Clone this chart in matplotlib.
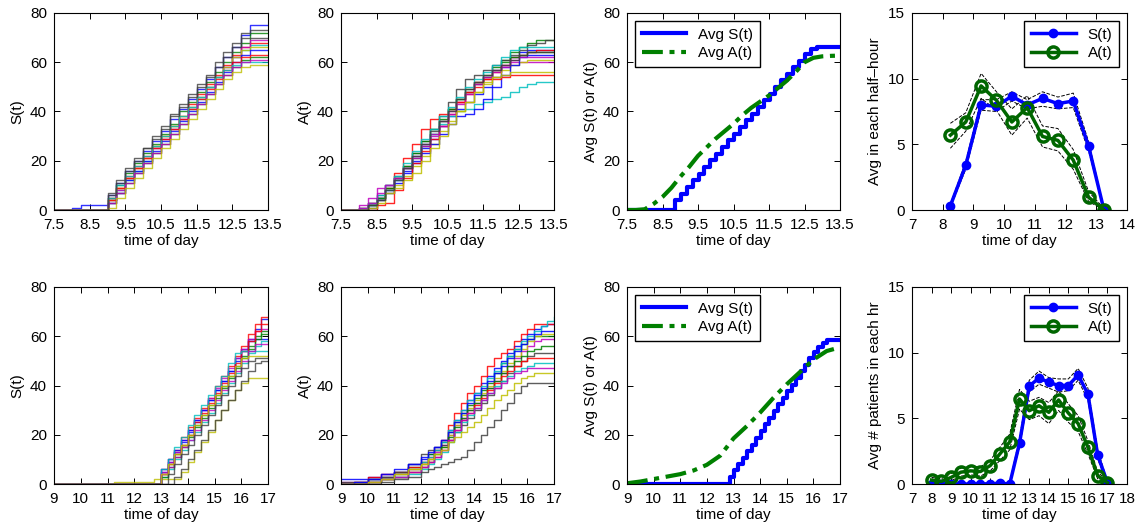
import numpy as np
import matplotlib
matplotlib.use("Agg")
import matplotlib.pyplot as plt

plt.rcParams['font.family'] = ['Liberation Sans', 'DejaVu Sans']
plt.rcParams['font.size'] = 11

# matlab-ish line colour cycle
cols = [(0, 0, 1), (0, 0.5, 0), (1, 0, 0), (0, 0.75, 0.75),
        (0.75, 0, 0.75), (0.75, 0.75, 0), (0.25, 0.25, 0.25)]

# ---------------- morning S(t) sample paths ----------------
t_am = [7.5, 7.75, 8.0, 8.25, 8.5, 8.75, 9.0, 9.25, 9.5, 9.75, 10.0, 10.25, 10.5,
        10.75, 11.0, 11.25, 11.5, 11.75, 12.0, 12.25, 12.5, 12.75, 13.0, 13.25, 13.5]
s_am = [
    [0, 0, 1, 2, 2, 2, 6, 11, 16, 20, 24, 28, 32, 37, 41, 45, 49, 53, 58, 62, 66, 71, 75, 75, 75],
    [0, 0, 0, 0, 0, 0, 5, 10, 15, 19, 23, 27, 31, 35, 40, 44, 48, 52, 56, 60, 64, 68, 72, 72, 72],
    [0, 0, 0, 0, 0, 0, 5, 9, 14, 18, 22, 26, 30, 34, 38, 43, 47, 51, 55, 59, 63, 66, 68, 68, 68],
    [0, 0, 0, 0, 0, 0, 4, 8, 12, 16, 20, 25, 29, 33, 37, 41, 45, 50, 54, 58, 62, 65, 67, 67, 67],
    [0, 0, 0, 0, 0, 0, 4, 8, 13, 17, 21, 25, 29, 33, 37, 42, 46, 50, 54, 58, 62, 66, 69, 69, 69],
    [0, 0, 0, 0, 0, 0, 4, 9, 13, 17, 21, 26, 30, 34, 38, 42, 46, 50, 54, 58, 62, 65, 66, 66, 66],
    [0, 0, 0, 0, 0, 0, 7, 12, 17, 21, 25, 30, 34, 39, 43, 47, 51, 55, 60, 64, 68, 72, 73, 73, 73],
    [0, 0, 0, 0, 0, 0, 3, 7, 12, 16, 20, 24, 28, 32, 36, 40, 44, 48, 52, 56, 60, 63, 65, 65, 65],
    [0, 0, 0, 0, 0, 0, 3, 7, 11, 15, 19, 23, 27, 31, 35, 39, 43, 47, 51, 55, 58, 61, 62, 62, 62],
    [0, 0, 0, 0, 0, 0, 4, 9, 13, 17, 21, 25, 29, 33, 37, 41, 45, 49, 53, 57, 60, 62, 63, 63, 63],
    [0, 0, 0, 0, 0, 0, 5, 10, 14, 18, 22, 26, 30, 34, 38, 42, 46, 50, 54, 57, 59, 60, 60, 60, 60],
    [0, 0, 0, 0, 0, 0, 3, 7, 11, 15, 19, 23, 27, 31, 35, 39, 43, 47, 51, 55, 58, 60, 61, 61, 61],
    [0, 0, 0, 0, 0, 0, 1, 5, 9, 13, 17, 21, 25, 29, 33, 37, 41, 45, 49, 53, 56, 58, 59, 59, 59],
    [0, 0, 0, 0, 0, 0, 6, 11, 16, 20, 25, 29, 33, 38, 42, 46, 50, 54, 58, 62, 66, 70, 70, 70, 70],
]

# ---------------- morning A(t) sample paths ----------------
a_am = [
    [0, 0, 0, 2, 5, 8, 12, 16, 20, 25, 29, 34, 38, 41, 44, 47, 50, 54, 58, 62, 64, 65, 65, 65, 65],
    [0, 0, 0, 2, 5, 9, 13, 17, 21, 26, 31, 36, 41, 45, 49, 52, 55, 58, 61, 64, 66, 68, 69, 69, 69],
    [0, 0, 1, 3, 5, 9, 15, 21, 27, 33, 37, 39, 41, 44, 47, 50, 53, 56, 59, 62, 63, 64, 65, 65, 65],
    [0, 0, 0, 2, 5, 8, 12, 17, 22, 27, 31, 35, 38, 40, 41, 43, 44, 45, 46, 48, 50, 51, 52, 52, 52],
    [0, 0, 2, 5, 9, 10, 13, 17, 22, 27, 31, 36, 40, 44, 48, 51, 54, 56, 58, 60, 60, 60, 60, 60, 60],
    [0, 0, 0, 1, 4, 7, 10, 14, 18, 22, 27, 32, 36, 40, 44, 48, 51, 54, 57, 59, 60, 61, 61, 61, 61],
    [0, 0, 1, 3, 6, 10, 14, 18, 23, 28, 33, 38, 44, 49, 53, 55, 57, 59, 61, 63, 65, 67, 68, 69, 69],
    [0, 0, 0, 1, 4, 7, 11, 15, 19, 23, 27, 31, 35, 38, 39, 41, 45, 50, 55, 59, 62, 63, 63, 63, 63],
    [0, 0, 0, 2, 5, 9, 13, 18, 23, 28, 33, 37, 41, 45, 48, 51, 54, 57, 60, 62, 63, 64, 64, 64, 64],
    [0, 0, 0, 0, 2, 3, 8, 13, 19, 24, 29, 34, 39, 44, 48, 52, 53, 53, 54, 55, 55, 55, 55, 55, 55],
    [0, 0, 1, 3, 6, 10, 14, 19, 24, 29, 33, 38, 42, 46, 50, 53, 56, 59, 62, 65, 66, 66, 66, 66, 66],
    [0, 0, 1, 3, 7, 10, 13, 17, 21, 26, 30, 34, 39, 43, 47, 51, 54, 57, 59, 61, 62, 62, 62, 62, 62],
    [0, 0, 0, 1, 3, 7, 9, 12, 15, 20, 25, 30, 35, 40, 44, 48, 52, 54, 55, 56, 56, 56, 56, 56, 56],
    [0, 0, 0, 2, 4, 8, 12, 17, 22, 27, 32, 36, 40, 45, 49, 52, 55, 57, 59, 61, 63, 64, 64, 64, 64],
]

# ---------------- morning averages ----------------
t_am_slots = [7.5, 8.85, 9.02, 9.18, 9.35, 9.52, 9.68, 9.85, 10.02, 10.18, 10.35, 10.52, 10.68,
              10.85, 11.02, 11.18, 11.35, 11.52, 11.68, 11.85, 12.02, 12.18, 12.35, 12.52,
              12.68, 12.85, 13.5]
avg_s_am = [0, 4, 6.7, 9.4, 12.1, 14.8, 17.5, 20.2, 22.9, 25.6, 28.3, 31.0, 33.7, 36.4,
            39.1, 41.8, 44.5, 47.2, 49.9, 52.6, 55.3, 58.0, 60.7, 63.2, 65.2, 66.0, 66.0]
avg_a_am = [0, 0, 0.3, 2.5, 5.3, 9, 13.5, 17.5, 22, 25.5, 29, 32, 35, 38.5, 41.5, 44,
            46.5, 49.5, 52.5, 56, 60, 61.8, 62.4, 62.6, 62.7]

# ---------------- half-hour counts (morning) ----------------
t_half = [8.25, 8.75, 9.25, 9.75, 10.25, 10.75, 11.25, 11.75, 12.25, 12.75, 13.25]
s_half = [0.33, 3.4, 8.0, 7.9, 8.67, 8.0, 8.5, 8.1, 8.3, 4.85, 0.0]
s_half_lo = [0.2, 3.1, 7.6, 7.5, 8.3, 7.7, 7.9, 7.7, 7.8, 4.5, 0.0]
s_half_hi = [0.45, 3.7, 8.4, 8.4, 9.0, 8.4, 9.0, 8.6, 8.9, 5.2, 0.1]
a_half = [5.7, 6.7, 9.45, 8.35, 6.7, 7.8, 5.6, 5.3, 3.8, 0.97, 0.0]
a_half_lo = [4.7, 6.0, 8.5, 7.6, 5.7, 7.0, 4.8, 4.5, 3.1, 0.65, 0.0]
a_half_hi = [6.6, 7.4, 10.4, 9.0, 7.7, 8.7, 6.4, 6.2, 4.6, 1.4, 0.1]

# ---------------- afternoon S(t) sample paths ----------------
t_pm = [9.0, 11.0, 11.25, 12.75, 13.0, 13.25, 13.5, 13.75, 14.0, 14.25, 14.5, 14.75,
        15.0, 15.25, 15.5, 15.75, 16.0, 16.25, 16.5, 16.75, 17.0]
s_pm = [
    [0, 0, 0, 0, 5, 9, 13, 17, 21, 25, 30, 34, 38, 42, 46, 51, 55, 59, 63, 67, 67],
    [0, 0, 0, 0, 4, 8, 12, 16, 20, 24, 28, 32, 36, 40, 44, 48, 52, 56, 60, 62, 62],
    [0, 0, 0, 0, 6, 10, 14, 19, 23, 27, 31, 35, 40, 44, 48, 52, 56, 61, 65, 68, 68],
    [0, 0, 0, 0, 3, 6, 10, 14, 18, 21, 25, 29, 33, 37, 41, 45, 49, 53, 56, 58, 58],
    [0, 0, 0, 0, 5, 9, 13, 18, 22, 26, 30, 35, 39, 43, 47, 51, 55, 59, 62, 63, 63],
    [0, 0, 1, 2, 2, 2, 2, 5, 9, 13, 17, 21, 26, 30, 34, 38, 41, 43, 43, 43, 43],
    [0, 0, 0, 0, 0, 0, 3, 6, 10, 14, 18, 22, 26, 30, 34, 38, 42, 46, 49, 50, 50],
    [0, 0, 0, 0, 6, 10, 14, 18, 22, 26, 30, 34, 38, 42, 46, 50, 54, 58, 59, 59, 59],
    [0, 0, 0, 0, 3, 7, 11, 15, 19, 23, 27, 31, 35, 39, 43, 47, 51, 55, 59, 61, 61],
    [0, 0, 0, 0, 4, 8, 12, 16, 20, 25, 29, 33, 37, 41, 45, 49, 54, 58, 62, 65, 65],
    [0, 0, 0, 0, 6, 10, 15, 19, 24, 28, 32, 36, 40, 44, 49, 53, 54, 54, 54, 54, 54],
    [0, 0, 0, 0, 4, 7, 11, 15, 18, 22, 26, 30, 34, 38, 42, 46, 50, 54, 57, 57, 57],
    [0, 0, 0, 0, 4, 8, 12, 16, 20, 24, 28, 32, 36, 40, 44, 48, 51, 52, 52, 52, 52],
    [0, 0, 0, 0, 0, 4, 8, 12, 16, 20, 24, 28, 32, 36, 40, 44, 47, 50, 51, 51, 51],
]

# ---------------- afternoon A(t) sample paths ----------------
t_pm_a = [9.0, 9.5, 10.0, 10.5, 11.0, 11.5, 12.0, 12.25, 12.5, 12.75, 13.0, 13.25, 13.5,
          13.75, 14.0, 14.25, 14.5, 14.75, 15.0, 15.25, 15.5, 15.75, 16.0, 16.25, 16.5,
          16.75, 17.0]
a_pm = [
    [2, 2, 3, 4, 5, 8, 10, 12, 15, 18, 22, 26, 30, 34, 37, 41, 44, 47, 50, 53, 56, 59, 61, 63, 64, 65, 65],
    [0, 1, 2, 3, 5, 7, 9, 12, 14, 17, 21, 25, 29, 32, 35, 38, 41, 45, 49, 52, 55, 57, 59, 60, 60, 60, 60],
    [0, 1, 3, 4, 5, 7, 9, 11, 14, 18, 24, 29, 33, 37, 40, 44, 48, 51, 53, 55, 58, 61, 63, 65, 65, 65, 65],
    [0, 0, 2, 3, 4, 6, 9, 11, 14, 17, 22, 26, 30, 34, 37, 40, 43, 46, 49, 52, 55, 58, 60, 62, 64, 66, 68],
    [1, 1, 2, 3, 4, 6, 8, 10, 13, 16, 20, 24, 27, 30, 33, 36, 39, 42, 45, 48, 51, 54, 56, 58, 59, 59, 59],
    [0, 0, 1, 2, 4, 6, 8, 10, 12, 15, 20, 24, 28, 31, 34, 37, 40, 43, 46, 49, 52, 55, 58, 60, 61, 61, 61],
    [1, 1, 2, 3, 5, 8, 12, 14, 15, 16, 18, 21, 24, 27, 30, 33, 36, 39, 42, 45, 48, 50, 52, 53, 53, 53, 53],
    [0, 1, 2, 4, 6, 8, 11, 13, 15, 18, 21, 25, 29, 33, 36, 39, 42, 45, 48, 51, 54, 57, 59, 61, 62, 62, 62],
    [0, 0, 1, 2, 3, 5, 7, 9, 12, 15, 19, 23, 27, 30, 33, 36, 39, 42, 45, 48, 50, 52, 54, 55, 56, 56, 56],
    [0, 0, 1, 2, 3, 5, 7, 9, 11, 14, 18, 22, 26, 29, 32, 35, 38, 41, 44, 46, 48, 50, 51, 51, 51, 51, 51],
    [0, 0, 1, 2, 3, 4, 6, 8, 10, 13, 17, 21, 25, 28, 31, 34, 37, 40, 42, 44, 46, 47, 48, 49, 49, 49, 49],
    [0, 0, 1, 2, 3, 5, 7, 9, 11, 14, 18, 22, 26, 29, 31, 34, 37, 39, 41, 43, 45, 46, 47, 47, 47, 47, 47],
    [0, 0, 1, 2, 4, 6, 8, 10, 12, 14, 17, 19, 21, 23, 25, 28, 31, 34, 36, 38, 41, 43, 44, 45, 45, 45, 45],
    [0, 0, 0, 1, 2, 3, 5, 6, 7, 8, 9, 10, 11, 14, 17, 20, 23, 26, 30, 33, 37, 40, 41, 41, 41, 41, 41],
]

# ---------------- afternoon averages ----------------
t_pm_slots = [9.0, 12.85, 13.02, 13.18, 13.35, 13.52, 13.68, 13.85, 14.02, 14.18, 14.35,
              14.52, 14.68, 14.85, 15.02, 15.18, 15.35, 15.52, 15.68, 15.85, 16.02, 16.18,
              16.35, 16.52, 16.68, 17.0]
avg_s_pm = [0, 3, 5.5, 8, 10.5, 13.2, 16, 18.8, 21.5, 24.2, 26.9, 29.6, 32.3, 35, 37.7,
            40.4, 43, 45.7, 48.4, 51, 53.5, 55.8, 57.4, 58.3, 58.6, 58.6]
t_pm_avg_a = [9.0, 9.5, 10.0, 10.5, 11.0, 11.5, 12.0, 12.5, 13.0, 13.5, 14.0, 14.5, 15.0,
              15.5, 16.0, 16.5, 17.0]
avg_a_pm = [0.3, 1.0, 2.0, 3.0, 4.0, 5.5, 7.8, 11.5, 18.5, 23.5, 29, 35, 40.5, 45.5,
            50.5, 54, 55.5]

# ---------------- half-hour counts (afternoon) ----------------
t_hr = [8, 8.5, 9, 9.5, 10, 10.5, 11, 11.5, 12, 12.5, 13, 13.5, 14, 14.5, 15, 15.5, 16, 16.5, 17]
s_hr = [0, 0, 0, 0, 0, 0, 0, 0.05, 0, 3.1, 7.46, 8.07, 7.74, 7.5, 7.5, 8.3, 6.85, 2.2, 0.1]
s_hr_lo = [0, 0, 0, 0, 0, 0, 0, 0, 0, 2.8, 7.0, 7.6, 7.3, 7.0, 7.1, 7.9, 6.4, 1.9, 0.0]
s_hr_hi = [0.05, 0.05, 0.05, 0.05, 0.05, 0.05, 0.1, 0.15, 0.1, 3.5, 7.9, 8.6, 8.1, 8.0, 8.0, 8.8, 7.3, 2.6, 0.2]
a_hr = [0.3, 0.2, 0.5, 0.9, 1.0, 0.95, 1.4, 2.3, 3.2, 6.47, 5.58, 5.96, 5.46, 6.4, 5.4, 4.6, 2.8, 0.63, 0.1]
a_hr_lo = [0.1, 0.05, 0.25, 0.6, 0.7, 0.6, 1.0, 1.8, 2.6, 5.7, 4.9, 5.2, 4.6, 5.6, 4.7, 4.0, 2.3, 0.4, 0.0]
a_hr_hi = [0.5, 0.4, 0.8, 1.2, 1.35, 1.3, 1.8, 2.8, 3.8, 7.2, 6.3, 6.6, 6.2, 7.1, 6.1, 5.2, 3.3, 0.9, 0.25]


fig = plt.figure(figsize=(11.43, 5.28), dpi=100)
W, H = 1143.0, 528.0


def mk_axes(l, r, t, b):
    ax = fig.add_axes([l / W, 1 - b / H, (r - l) / W, (b - t) / H])
    ax.tick_params(direction='in', top=True, right=True, length=4, width=0.7)
    ax.tick_params(axis='x', pad=6)
    ax.tick_params(axis='y', pad=5)
    for sp in ax.spines.values():
        sp.set_linewidth(0.8)
    return ax


dashdot = (0, (5, 1.6, 1.2, 1.6))
leg_kw = dict(fancybox=False, edgecolor='k', framealpha=1, borderpad=0.45,
              labelspacing=0.3, handlelength=2.9)
lefts = [54, 341, 627, 912]
rights = [268, 554, 840, 1127]
rows = [(13, 210), (287, 484)]

# ---- row 1 ----
ax = mk_axes(lefts[0], rights[0], *rows[0])
for i, p in enumerate(s_am):
    ax.step(t_am, p, where='post', color=cols[i % 7], lw=1, alpha=0.8)
ax.set_xlim(7.5, 13.5)
ax.set_ylim(0, 80)
ax.set_xticks([7.5, 8.5, 9.5, 10.5, 11.5, 12.5, 13.5])
ax.set_yticks([0, 20, 40, 60, 80])
ax.set_xlabel('time of day', labelpad=1)
ax.set_ylabel('S(t)')

ax = mk_axes(lefts[1], rights[1], *rows[0])
for i, p in enumerate(a_am):
    ax.step(t_am, p, where='post', color=cols[i % 7], lw=1, alpha=0.85)
ax.set_xlim(7.5, 13.5)
ax.set_ylim(0, 80)
ax.set_xticks([7.5, 8.5, 9.5, 10.5, 11.5, 12.5, 13.5])
ax.set_yticks([0, 20, 40, 60, 80])
ax.set_xlabel('time of day', labelpad=1)
ax.set_ylabel('A(t)')

ax = mk_axes(lefts[2], rights[2], *rows[0])
ax.step(t_am_slots, avg_s_am, where='post', color='b', lw=3, label='Avg S(t)')
ax.plot(t_am, avg_a_am, color=(0, 0.5, 0), lw=3, ls=dashdot, label='Avg A(t)')
ax.set_xlim(7.5, 13.5)
ax.set_ylim(0, 80)
ax.set_xticks([7.5, 8.5, 9.5, 10.5, 11.5, 12.5, 13.5])
ax.set_yticks([0, 20, 40, 60, 80])
ax.set_xlabel('time of day', labelpad=1)
ax.set_ylabel('Avg S(t) or A(t)')
ax.legend(loc='upper left', borderaxespad=0.5, **leg_kw)

ax = mk_axes(lefts[3], rights[3], *rows[0])
for lo, hi in [(s_half_lo, s_half_hi), (a_half_lo, a_half_hi)]:
    ax.plot(t_half, lo, 'k--', lw=0.7)
    ax.plot(t_half, hi, 'k--', lw=0.7)
ax.plot(t_half, s_half, '-o', color='b', lw=2.5, ms=6, label='S(t)')
ax.plot(t_half, a_half, '-o', color=(0, 0.4, 0), lw=2.5, ms=8, mfc='none', mew=2.5, label='A(t)')
ax.set_xlim(7, 14)
ax.set_ylim(0, 15)
ax.set_xticks(range(7, 15))
ax.set_yticks([0, 5, 10, 15])
ax.set_xlabel('time of day', labelpad=1)
ax.set_ylabel('Avg in each half\u2013hour')
ax.legend(loc='upper right', **leg_kw)

# ---- row 2 ----
ax = mk_axes(lefts[0], rights[0], *rows[1])
for i, p in enumerate(s_pm):
    ax.step(t_pm, p, where='post', color=cols[i % 7], lw=1, alpha=0.8)
ax.set_xlim(9, 17)
ax.set_ylim(0, 80)
ax.set_xticks(range(9, 18))
ax.set_yticks([0, 20, 40, 60, 80])
ax.set_xlabel('time of day', labelpad=1)
ax.set_ylabel('S(t)')

ax = mk_axes(lefts[1], rights[1], *rows[1])
for i, p in enumerate(a_pm):
    ax.step(t_pm_a, p, where='post', color=cols[i % 7], lw=1, alpha=0.85)
ax.set_xlim(9, 17)
ax.set_ylim(0, 80)
ax.set_xticks(range(9, 18))
ax.set_yticks([0, 20, 40, 60, 80])
ax.set_xlabel('time of day', labelpad=1)
ax.set_ylabel('A(t)')

ax = mk_axes(lefts[2], rights[2], *rows[1])
ax.step(t_pm_slots, avg_s_pm, where='post', color='b', lw=3, label='Avg S(t)')
ax.plot(t_pm_avg_a, avg_a_pm, color=(0, 0.5, 0), lw=3, ls=dashdot, label='Avg A(t)')
ax.set_xlim(9, 17)
ax.set_ylim(0, 80)
ax.set_xticks(range(9, 18))
ax.set_yticks([0, 20, 40, 60, 80])
ax.set_xlabel('time of day', labelpad=1)
ax.set_ylabel('Avg S(t) or A(t)')
ax.legend(loc='upper left', borderaxespad=0.5, **leg_kw)

ax = mk_axes(lefts[3], rights[3], *rows[1])
for lo, hi in [(s_hr_lo, s_hr_hi), (a_hr_lo, a_hr_hi)]:
    ax.plot(t_hr, lo, 'k--', lw=0.7)
    ax.plot(t_hr, hi, 'k--', lw=0.7)
ax.plot(t_hr, s_hr, '-o', color='b', lw=2.5, ms=6, label='S(t)')
ax.plot(t_hr, a_hr, '-o', color=(0, 0.4, 0), lw=2.5, ms=8, mfc='none', mew=2.5, label='A(t)')
ax.set_xlim(7, 18)
ax.set_ylim(0, 15)
ax.set_xticks(range(7, 19))
ax.set_yticks([0, 5, 10, 15])
ax.set_xlabel('time of day', labelpad=1)
ax.set_ylabel('Avg # patients in each hr')
ax.legend(loc='upper right', **leg_kw)

fig.savefig('out.png', dpi=100)
